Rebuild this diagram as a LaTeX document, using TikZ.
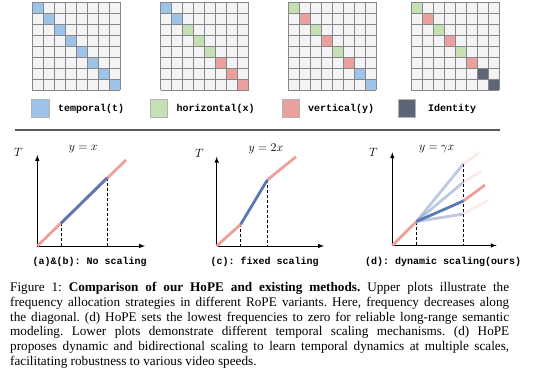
\documentclass[tikz,border=0pt]{standalone}
\usepackage{fontspec}
\setmainfont{Liberation Serif}
\setmonofont{Liberation Mono}

\definecolor{tblue}{RGB}{157,195,232}
\definecolor{hgreen}{RGB}{197,224,178}
\definecolor{vred}{RGB}{234,160,156}
\definecolor{idgray}{RGB}{92,102,120}
\definecolor{cellbg}{RGB}{244,244,246}
\definecolor{gridgray}{RGB}{135,135,135}
\definecolor{linered}{RGB}{236,160,152}
\definecolor{lineblue}{RGB}{90,120,180}

\begin{document}
\begin{tikzpicture}[x=1pt,y=-1pt,
    gridline/.style={gridgray,line width=0.9pt},
    keybox/.style={draw=gray!60,line width=0.4pt},
    keytext/.style={anchor=west,inner sep=0pt,font=\ttfamily\bfseries\fontsize{10}{12}\selectfont},
    axis/.style={-latex,line width=1pt},
    curve/.style={line width=2.8pt},
    guide/.style={densely dashed,line width=0.6pt},
    mathlabel/.style={inner sep=0pt,font=\fontsize{12}{14}\selectfont},
    plotlabel/.style={inner sep=0pt,font=\ttfamily\bfseries\fontsize{10}{12}\selectfont}]
\useasboundingbox (0,0) rectangle (540,372);

% frequency grid for (a)&(b)
\fill[cellbg] (32,2) rectangle (120,90);
\foreach \c [count=\i from 0] in {tblue,tblue,tblue,tblue,tblue,tblue,tblue,tblue}
    \fill[\c] (32+11*\i,2+11*\i) rectangle ++(11,11);
\foreach \k in {0,...,8} {
    \draw[gridline] (32+11*\k,2) -- ++(0,88);
    \draw[gridline] (32,2+11*\k) -- ++(88,0);
}

% frequency grid for (c)
\fill[cellbg] (160.5,2) rectangle (248.5,90);
\foreach \c [count=\i from 0] in {tblue,tblue,hgreen,hgreen,hgreen,vred,vred,vred}
    \fill[\c] (160.5+11*\i,2+11*\i) rectangle ++(11,11);
\foreach \k in {0,...,8} {
    \draw[gridline] (160.5+11*\k,2) -- ++(0,88);
    \draw[gridline] (160.5,2+11*\k) -- ++(88,0);
}

% frequency grid, interleaved
\fill[cellbg] (288,2) rectangle (376,90);
\foreach \c [count=\i from 0] in {hgreen,vred,hgreen,vred,hgreen,vred,tblue,tblue}
    \fill[\c] (288+11*\i,2+11*\i) rectangle ++(11,11);
\foreach \k in {0,...,8} {
    \draw[gridline] (288+11*\k,2) -- ++(0,88);
    \draw[gridline] (288,2+11*\k) -- ++(88,0);
}

% frequency grid for (d), lowest frequencies set to zero
\fill[cellbg] (411,2) rectangle (499,90);
\foreach \c [count=\i from 0] in {hgreen,vred,hgreen,vred,hgreen,vred,idgray,idgray}
    \fill[\c] (411+11*\i,2+11*\i) rectangle ++(11,11);
\foreach \k in {0,...,8} {
    \draw[gridline] (411+11*\k,2) -- ++(0,88);
    \draw[gridline] (411,2+11*\k) -- ++(88,0);
}

% legend
\draw[keybox,fill=tblue]  (31,99)    rectangle ++(18,18);
\node[keytext] (kt) at (58,108.5)   {temporal(t)};
\draw[keybox,fill=hgreen] (150.5,99) rectangle ++(17,18);
\node[keytext] (kx) at (176.5,108.5) {horizontal(x)};
\draw[keybox,fill=vred]   (282.5,99) rectangle ++(17,18);
\node[keytext] (ky) at (308,108.5)  {vertical(y)};
\draw[keybox,fill=idgray] (398,99)   rectangle ++(17,18);
\node[keytext] (ki) at (428,108.5)  {Identity};

% separator
\draw[gray!70!black,line width=2pt] (15,130) -- (500,130);

% (a)&(b): no scaling
\coordinate (o1) at (37.3,246);
\coordinate (s1) at (61,223.3);
\coordinate (e1) at (107.3,177.7);
\draw[guide] (s1) -- (s1 |- o1);
\draw[guide] (e1) -- (e1 |- o1);
\draw[axis] (o1) -- (37.3,155);
\draw[axis] (o1) -- (145,246);
\draw[linered,curve] (o1) -- (126,160);
\draw[lineblue,curve] (s1) -- (e1);
\node[mathlabel] (T1) at (18.3,152) {$T$};
\node[mathlabel] (f1) at (83.3,149) {$y=x$};
\node[plotlabel] (l1) at (89.7,262) {(a)\&(b):~No~scaling};

% (c): fixed scaling
\coordinate (o2) at (216.7,246);
\coordinate (s2) at (240.7,224.3);
\coordinate (e2) at (267.3,180);
\draw[guide] (s2) -- (s2 |- o2);
\draw[guide] (e2) -- (e2 |- o2);
\draw[axis] (o2) -- (216.7,156.7);
\draw[axis] (o2) -- (324,246);
\draw[linered,curve] (o2) -- (s2);
\draw[linered,curve] (e2) -- (296,156.7);
\draw[lineblue,curve] (s2) -- (e2);
\node[mathlabel] (T2) at (199.3,153) {$T$};
\node[mathlabel] (f2) at (266,148.3) {$y=2x$};
\node[plotlabel] (l2) at (264.7,262) {(c):~fixed~scaling};

% (d): dynamic scaling
\coordinate (o3) at (392.3,245.5);
\coordinate (s3) at (416.5,221.5);
\coordinate (e3) at (463.3,201);
\coordinate (u3) at (463.3,164);
\coordinate (v3) at (463.3,182.3);
\coordinate (w3) at (463.3,214);
\draw[guide] (s3) -- (s3 |- o3);
\draw[guide] (u3) -- (u3 |- o3);
\draw[axis] (o3) -- (392.3,152.3);
\draw[axis] (o3) -- (496.7,245.5);
\draw[linered,curve,opacity=0.2] (u3) -- (479.3,152.7);
\draw[linered,curve,opacity=0.2] (v3) -- (481.7,170.7);
\draw[linered,curve,opacity=0.2] (w3) -- (488.3,200);
\draw[linered,curve] (o3) -- (s3);
\draw[linered,curve] (e3) -- (485,185);
\draw[lineblue,curve,opacity=0.4] (s3) -- (u3);
\draw[lineblue,curve,opacity=0.4] (s3) -- (v3);
\draw[lineblue,curve,opacity=0.4] (s3) -- (w3);
\draw[lineblue,curve] (s3) -- (e3);
\node[mathlabel] (T3) at (373.3,152.3) {$T$};
\node[mathlabel] (f3) at (436.7,149) {$y=\gamma x$};
\node[plotlabel,anchor=west] (l3) at (365,262) {(d):~dynamic~scaling(ours)};

% caption
\node[anchor=north west,text width=499pt,align=justify,inner sep=0pt,
      font=\fontsize{13.2}{14.8}\selectfont\frenchspacing] (cap) at (10,282)
{Figure 1: \textbf{Comparison of our HoPE and existing methods.} Upper plots illustrate the\linebreak
frequency allocation strategies in different RoPE variants. Here, frequency decreases along\linebreak
the diagonal. (d) HoPE sets the lowest frequencies to zero for reliable long-range semantic\linebreak
modeling. Lower plots demonstrate different temporal scaling mechanisms. (d) HoPE\linebreak
proposes dynamic and bidirectional scaling to learn temporal dynamics at multiple scales,\linebreak
facilitating robustness to various video speeds.};
\end{tikzpicture}
\end{document}
